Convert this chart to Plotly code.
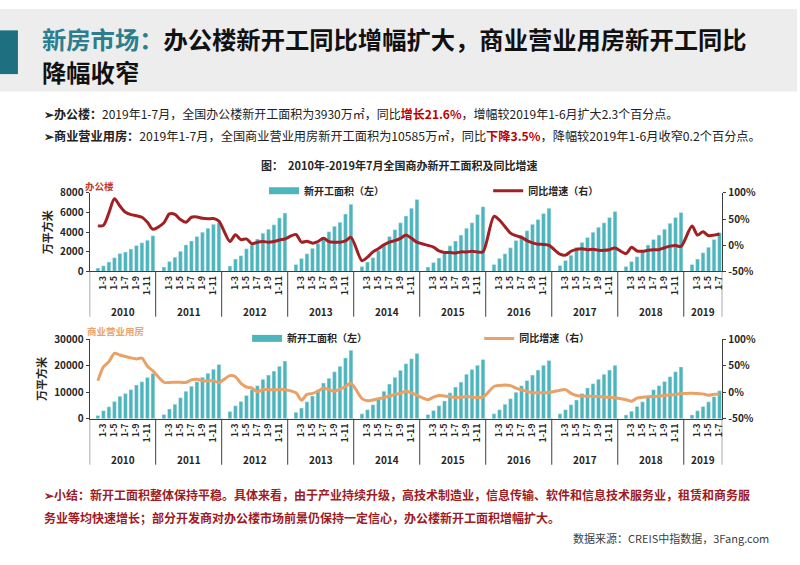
import plotly.graph_objects as go

# ---------------- data ----------------
years = [2010, 2011, 2012, 2013, 2014, 2015, 2016, 2017, 2018, 2019]
last_month = [12, 12, 12, 12, 12, 12, 12, 12, 12, 7]   # 1-2 ... 1-12 (2019: to 1-7)
tick_months = [3, 5, 7, 9, 11]

# 办公楼 新开工面积 (万平方米), cumulative 1-2 ... 1-12 each year
office_area = [
    330, 560, 960, 1390, 1820, 1980, 2280, 2640, 2910, 3170, 3640,
    450, 1000, 1450, 2050, 2700, 3100, 3550, 4000, 4400, 4800, 4950,
    550, 1250, 1600, 2300, 2700, 3300, 3900, 4300, 4750, 5450, 5950,
    700, 1300, 1800, 2350, 2850, 3500, 4050, 4600, 5000, 5850, 6850,
    500, 950, 1400, 2100, 2800, 3550, 4250, 4950, 5650, 6450, 7330,
    450, 900, 1350, 1850, 2600, 3100, 3700, 4400, 4950, 5800, 6600,
    700, 1300, 1800, 2400, 3150, 3650, 4150, 4800, 5300, 5900, 6450,
    600, 1100, 1650, 2450, 2950, 3450, 4000, 4500, 4950, 5500, 6100,
    500, 1000, 1500, 2150, 2700, 3250, 3700, 4300, 4900, 5500, 6000,
    700, 1250, 1900, 2450, 3250, 3930,
]
# 办公楼 同比增速 (%)
office_yoy = [
    37, 38, 62, 89, 75, 63, 58.5, 56.5, 53.5, 44, 30.5,
    43, 60, 59, 49, 44, 53.5, 54, 51.5, 50.5, 51, 46,
    7, 20, 10.7, 12, 2.7, 5.8, 7, 5.8, 7, 10, 12,
    20.6, 5.8, 7.6, 4, 7, 13.2, 7, 5.8, 5.8, 8.2, 15,
    -29.6, -22.8, -12.8, -6.6, 0.8, 5.8, 8.9, 13.2, 19.4, 13.2, 5.8,
    -0.4, -3.5, -11, -14, -14, -14.7, -12.8, -12.8, -11.6, -12.8, -12.8,
    55.3, 47.9, 35.5, 23.1, 18.2, 15, 8.9, 4.5, 2, 1.4, -0.4,
    -17.2, -19, -11.6, -7.9, -6.6, -8.5, -7.9, -9.7, -9.7, -8.5, -5.4,
    -16, -4, -11, -11.6, -9.7, -8.5, -8.5, -4.8, -1.7, -0.4, -2.3,
    36.7, 19.4, 25.6, 18.2, 19.3, 21.6,
]
# 商业营业用房 新开工面积 (万平方米)
comm_area = [
    1250, 3050, 4500, 6500, 8550, 9550, 11000, 12750, 14000, 15550, 17100,
    1600, 3700, 5500, 7950, 10400, 12250, 14000, 15650, 17150, 18750, 20500,
    2700, 4900, 6500, 8800, 11000, 12500, 14900, 16500, 18000, 19800, 21800,
    2450, 4050, 6400, 8600, 11000, 13500, 15300, 17750, 19800, 23000, 25900,
    1850, 3450, 5300, 7400, 10400, 13100, 15700, 18300, 20800, 22700, 24700,
    1600, 3100, 4900, 6750, 9800, 12000, 13850, 16800, 18600, 20200, 22400,
    1850, 3450, 5500, 7600, 10050, 12500, 14450, 16500, 18400, 20200, 22000,
    1850, 3450, 5300, 7100, 9550, 11650, 13250, 14950, 16800, 18400, 20200,
    1450, 2850, 4650, 6400, 8600, 11000, 12500, 14100, 15900, 17750, 19600,
    1450, 3050, 4650, 6400, 8350, 10585,
]
# 商业营业用房 同比增速 (%)
comm_yoy = [
    22, 48, 58, 73.5, 70.5, 67.5, 65, 63, 64.5, 49, 40.5,
    19, 18.5, 19, 19, 18.5, 23.5, 24.5, 22, 21.5, 22, 18.5,
    31.5, 29.5, 17, 10, 8, 1, 5, 5, 5, 5, 5,
    -1, -15, -4, -2, 2, 8, 5, 2, 6, 11, 17,
    -12, -16, -14.5, -12, -10, -7, -4, -2, 2, -1, -6,
    -14, -9, -6, -7, -8, -10, -9.5, -8, -9, -10, -9,
    11, 13, 14, 12.5, 8, 4.5, 2, -1, -1, -1, -0.5,
    4, 5, -2, -6, -7, -7.5, -8, -8, -9, -9.5, -10.5,
    -14, -17, -11, -9.5, -8.5, -8, -7.5, -6, -5, -4, -2.5,
    -2, -2.5, -3, -5.5, -3.7, -3.5,
]

office_left_ticks = [0, 2000, 4000, 6000, 8000]
comm_left_ticks = [0, 10000, 20000, 30000]
right_ticks = [-50, 0, 50, 100]
right_tick_text = ["-50%", "0%", "50%", "100%"]

# ---------------- layout helpers ----------------
W, H = 800, 565
def px(x): return x / W
def py(y): return 1 - y / H

FONT = "Noto Sans CJK SC"
TEAL_BAR = "#4DB6BD"
RED = "#A21F24"
ORANGE = "#EAA166"
AX = "#3F3F3F"

# slot index: 12 slots per year (slot of month 1 is empty)
slot_x = []
for yr, lm in zip(years, last_month):
    for m in range(2, lm + 1):
        slot_x.append(12 * (yr - years[0]) + (m - 1))
n_slots = 12 * (len(years) - 1) + last_month[-1]
tickvals, ticktext = [], []
for yr, lm in zip(years, last_month):
    for m in tick_months:
        if m <= lm:
            tickvals.append(12 * (yr - years[0]) + (m - 1))
            ticktext.append(f"1-{m}")

fig = go.Figure()

# ---- top: office ----
fig.add_trace(go.Bar(x=slot_x, y=office_area, marker_color=TEAL_BAR, width=0.7,
                     xaxis="x", yaxis="y", showlegend=False, name="新开工面积（左）"))
fig.add_trace(go.Scatter(x=[None], y=[None], mode="lines", line=dict(color=TEAL_BAR, width=7),
                         name="新开工面积（左）", xaxis="x", yaxis="y", legend="legend"))
fig.add_trace(go.Scatter(x=slot_x, y=office_yoy, mode="lines",
                         line=dict(color=RED, width=3, shape="spline", smoothing=0.8),
                         xaxis="x", yaxis="y2", name="同比增速（右）", legend="legend2"))
# ---- bottom: commercial ----
fig.add_trace(go.Bar(x=slot_x, y=comm_area, marker_color=TEAL_BAR, width=0.7,
                     xaxis="x2", yaxis="y3", showlegend=False, name="新开工面积（左）"))
fig.add_trace(go.Scatter(x=[None], y=[None], mode="lines", line=dict(color=TEAL_BAR, width=7),
                         name="新开工面积（左）", xaxis="x2", yaxis="y3", legend="legend3"))
fig.add_trace(go.Scatter(x=slot_x, y=comm_yoy, mode="lines",
                         line=dict(color=ORANGE, width=3, shape="spline", smoothing=0.8),
                         xaxis="x2", yaxis="y4", name="同比增速（右）", legend="legend4"))

xdom = [px(90), px(725)]
top_dom = [py(270), py(189.3)]
bot_dom = [py(421.7), py(340)]

def xaxis_cfg(anchor):
    return dict(domain=xdom, anchor=anchor, range=[-0.5, n_slots - 0.5],
                tickvals=tickvals, ticktext=ticktext, tickangle=-90,
                tickfont=dict(family=FONT, size=9, color="#262626", weight="bold"),
                showline=True, linecolor=AX, linewidth=1, ticks="", showgrid=False,
                zeroline=False, fixedrange=True)

def left_cfg(dom, rng, tv, anchor):
    return dict(domain=dom, anchor=anchor, range=rng, tickvals=tv, ticktext=[str(v) for v in tv],
                showline=True, linecolor=AX, ticks="outside", ticklen=3, tickcolor=AX,
                showgrid=False, zeroline=False, fixedrange=True,
                tickfont=dict(family=FONT, size=10, color="#262626", weight="bold"),
                title=dict(text="万平方米", standoff=5,
                           font=dict(family=FONT, size=11, color="#262626", weight="bold")))

def right_cfg(overlay, anchor):
    return dict(overlaying=overlay, side="right", anchor=anchor, range=[-50, 100],
                tickvals=right_ticks, ticktext=right_tick_text,
                showline=True, linecolor=AX, ticks="outside", ticklen=3, tickcolor=AX,
                showgrid=False, zeroline=False, fixedrange=True,
                tickfont=dict(family=FONT, size=10, color="#262626", weight="bold"))

fig.update_layout(
    width=W, height=H, margin=dict(l=0, r=0, t=0, b=0),
    paper_bgcolor="white", plot_bgcolor="rgba(0,0,0,0)",
    font=dict(family=FONT, color="#262626"),
    hovermode=False,
    xaxis=xaxis_cfg("y"),
    yaxis=left_cfg(top_dom, [0, 8000], office_left_ticks, "x"),
    yaxis2=right_cfg("y", "x"),
    xaxis2=xaxis_cfg("y3"),
    yaxis3=left_cfg(bot_dom, [0, 30000], comm_left_ticks, "x2"),
    yaxis4=right_cfg("y3", "x2"),
    bargap=0.3,
)

leg_font = dict(family=FONT, size=10, color="#262626", weight="bold")
for name, x, y in [("legend", 265, 187), ("legend2", 490, 187),
                   ("legend3", 248, 339), ("legend4", 481, 339)]:
    fig.update_layout({name: dict(x=px(x), y=py(y), xanchor="left", yanchor="middle",
                                  bgcolor="rgba(0,0,0,0)", font=leg_font, itemwidth=30)})

shapes = [
    dict(type="rect", xref="paper", yref="paper", x0=0, x1=1, y0=py(85), y1=1,
         fillcolor="#EDEDED", line=dict(width=0), layer="below"),
    dict(type="rect", xref="paper", yref="paper", x0=0, x1=px(18), y0=py(67), y1=py(22),
         fillcolor="#1E6F7F", line=dict(width=0), layer="below"),
]
annotations = []
for xr, axis_bottom, sep_bottom, label_y in [("x", 270, 316.7, 311.7), ("x2", 421.7, 469, 463.3)]:
    bounds = [12 * k - 0.5 for k in range(len(years))] + [n_slots - 0.5]
    for b in bounds:
        shapes.append(dict(type="line", xref=xr, yref="paper", x0=b, x1=b,
                           y0=py(axis_bottom), y1=py(sep_bottom), line=dict(color=AX, width=1)))
    for k, (yr, lm) in enumerate(zip(years, last_month)):
        annotations.append(dict(xref=xr, yref="paper", x=12 * k + (lm - 1) / 2, y=py(label_y),
                                text=f"<b>{yr}</b>", showarrow=False, xanchor="center", yanchor="middle",
                                font=dict(family=FONT, size=10, color="#262626")))

def ann(x, y, text, size, color="#262626", xanchor="left"):
    annotations.append(dict(xref="paper", yref="paper", x=px(x), y=py(y), text=text, showarrow=False,
                            xanchor=xanchor, yanchor="middle", borderpad=0,
                            font=dict(family=FONT, size=size, color=color)))

ann(41, 30, "<b><span style='color:#2A7E8D'>新房市场：</span>办公楼新开工同比增幅扩大，商业营业用房新开工同比</b>", 24.3, "#111111")
ann(41, 64, "<b>降幅收窄</b>", 24.3, "#111111")
ann(43, 108, "<b>➢办公楼：</b>2019年1-7月，全国办公楼新开工面积为3930万㎡，同比<b><span style='color:#C00000'>增长21.6%</span></b>，增幅较2019年1-6月扩大2.3个百分点。", 12, "#222222")
ann(43, 131, "<b>➢商业营业用房：</b>2019年1-7月，全国商业营业用房新开工面积为10585万㎡，同比<b><span style='color:#C00000'>下降3.5%</span></b>，降幅较2019年1-6月收窄0.2个百分点。", 12.2, "#222222")
ann(400, 161, "<b>图：  2010年-2019年7月全国商办新开工面积及同比增速</b>", 11, "#262626", "center")
ann(84, 182, "<b>办公楼</b>", 9.5, "#C0392B")
ann(86, 331.5, "<b>商业营业用房</b>", 9.5, "#EBA46A")
ann(43, 500, "<b>➢小结：新开工面积整体保持平稳。具体来看，由于产业持续升级，高技术制造业，信息传输、软件和信息技术服务业，租赁和商务服</b>", 12, "#9E1B1F")
ann(43, 523, "<b>务业等均快速增长；部分开发商对办公楼市场前景仍保持一定信心，办公楼新开工面积增幅扩大。</b>", 12, "#9E1B1F")
ann(773, 544, "数据来源：CREIS中指数据，3Fang.com", 11, "#404040", "right")

fig.update_layout(shapes=shapes, annotations=annotations)
fig.write_html("out.html", config={"displayModeBar": False},
               post_script="document.body.style.margin='0';")
